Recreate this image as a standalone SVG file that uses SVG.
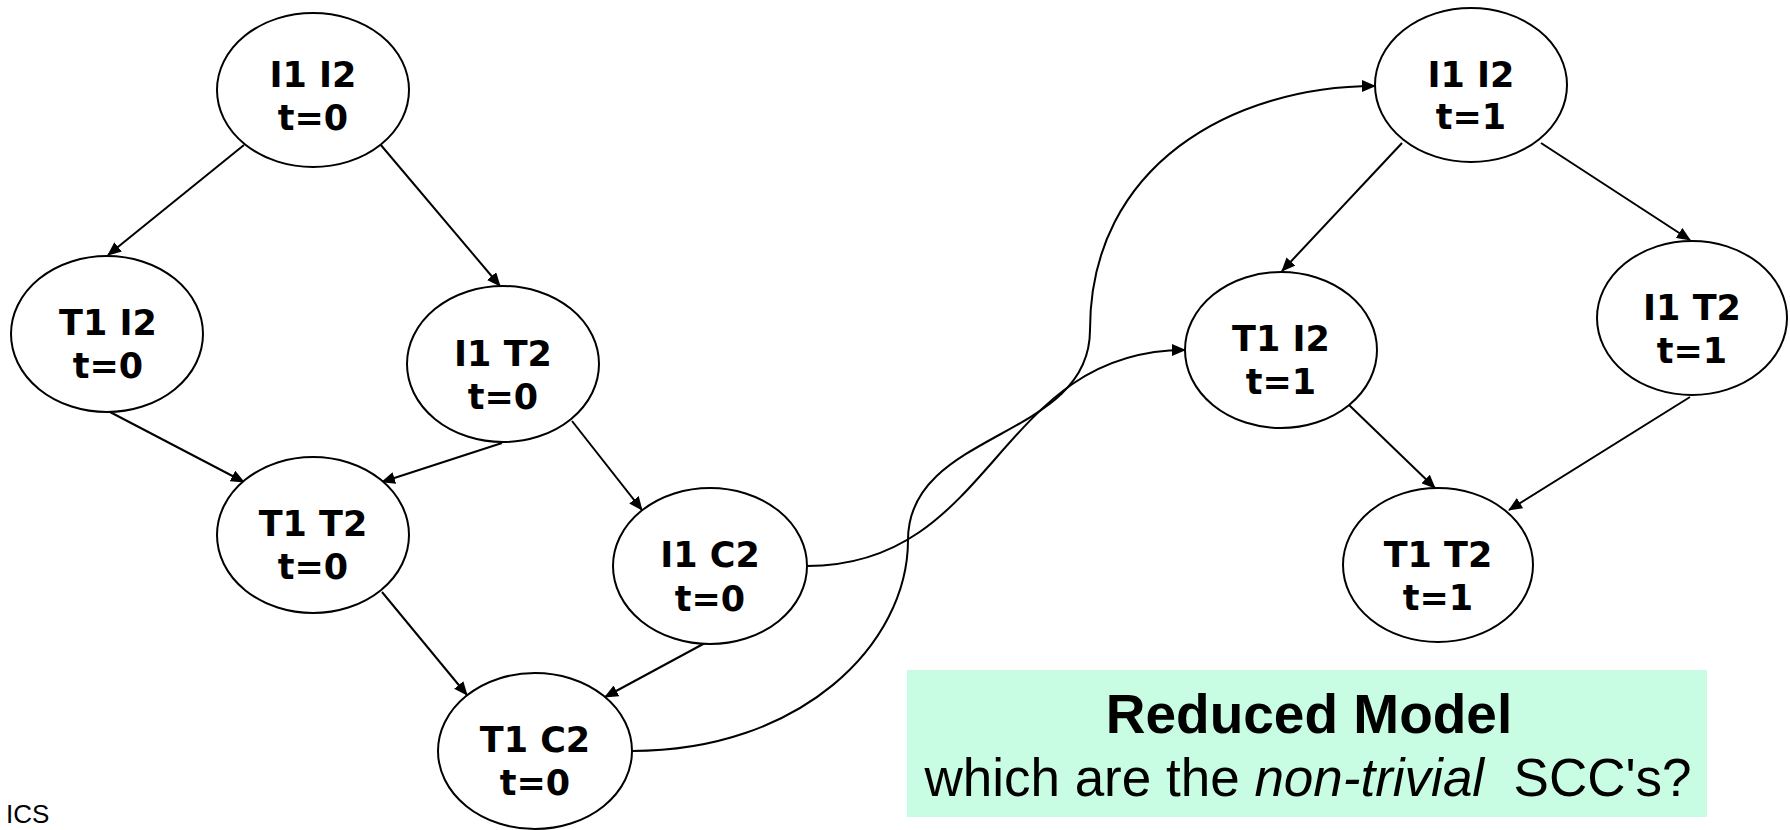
<svg xmlns="http://www.w3.org/2000/svg" width="1790" height="830" viewBox="0 0 1790 830">
<style>
.node ellipse{fill:#fff;stroke:#000;stroke-width:2}
.node text{font-family:"DejaVu Sans",Verdana,sans-serif;font-weight:bold;font-size:35px;text-anchor:middle;fill:#000}
.edge{fill:none;stroke:#000;stroke-width:2;marker-end:url(#arr)}
.note{font-family:"Liberation Sans",Arial,sans-serif;fill:#000;text-anchor:middle}
</style>
<defs>
<marker id="arr" markerUnits="userSpaceOnUse" markerWidth="14" markerHeight="12" viewBox="0 0 14 12" refX="13" refY="6" orient="auto">
<path d="M0,0 L14,6 L0,12 Z" fill="#000"/>
</marker>
</defs>
<rect width="1790" height="830" fill="#fff"/>
<g id="connectors">
<path class="edge" d="M244,145 L108,255"/>
<path class="edge" d="M380,144 L500,286"/>
<path class="edge" d="M110,412 L244,482"/>
<path class="edge" d="M502,443 L382,482"/>
<path class="edge" d="M572,421 L642,510"/>
<path class="edge" d="M382,592 L467,695"/>
<path class="edge" d="M705,643 L605,697"/>
<path class="edge" d="M807,566 C996,566 996,350 1185,350"/>
<path class="edge" d="M632,751 C800,751 908,645 908,540 C908,430 1090,440 1090,330 C1090,165 1233,86 1375,86"/>
<path class="edge" d="M1402,143 L1282,271"/>
<path class="edge" d="M1541,143 L1690,240"/>
<path class="edge" d="M1349,405 L1435,488"/>
<path class="edge" d="M1690,397 L1509,510"/>
</g>
<g id="n_I1I2_t0" class="node"><ellipse cx="313" cy="90" rx="96" ry="77"/><text x="313" y="87">I1 I2</text><text x="313" y="130">t=0</text></g>
<g id="n_T1I2_t0" class="node"><ellipse cx="107" cy="334" rx="96" ry="78"/><text x="108" y="335">T1 I2</text><text x="108" y="378">t=0</text></g>
<g id="n_I1T2_t0" class="node"><ellipse cx="503" cy="364" rx="96" ry="78"/><text x="503" y="366">I1 T2</text><text x="503" y="409">t=0</text></g>
<g id="n_T1T2_t0" class="node"><ellipse cx="313" cy="535" rx="96" ry="78"/><text x="313" y="536">T1 T2</text><text x="313" y="579">t=0</text></g>
<g id="n_I1C2_t0" class="node"><ellipse cx="710" cy="566" rx="97" ry="78"/><text x="710" y="567">I1 C2</text><text x="710" y="611">t=0</text></g>
<g id="n_T1C2_t0" class="node"><ellipse cx="535" cy="751" rx="97" ry="78"/><text x="535" y="752">T1 C2</text><text x="535" y="795">t=0</text></g>
<g id="n_I1I2_t1" class="node"><ellipse cx="1471" cy="85" rx="96" ry="77"/><text x="1471" y="87">I1 I2</text><text x="1471" y="129">t=1</text></g>
<g id="n_T1I2_t1" class="node"><ellipse cx="1281" cy="350" rx="96" ry="78"/><text x="1281" y="351">T1 I2</text><text x="1281" y="394">t=1</text></g>
<g id="n_I1T2_t1" class="node"><ellipse cx="1692" cy="318" rx="95" ry="77"/><text x="1692" y="320">I1 T2</text><text x="1692" y="363">t=1</text></g>
<g id="n_T1T2_t1" class="node"><ellipse cx="1438" cy="565" rx="95" ry="77"/><text x="1438" y="567">T1 T2</text><text x="1438" y="610">t=1</text></g>
<g id="note">
<rect x="907" y="670" width="800" height="147" fill="#C8FDE3"/>
<text class="note" x="1309" y="733" font-size="55" font-weight="bold">Reduced Model</text>
<text class="note" x="1308" y="796" font-size="53">which are the <tspan font-style="italic">non-trivial</tspan>&#160; SCC's?</text>
</g>
<text x="6" y="823" font-family="Liberation Sans, Arial, sans-serif" font-size="26" fill="#000">ICS</text>
</svg>
